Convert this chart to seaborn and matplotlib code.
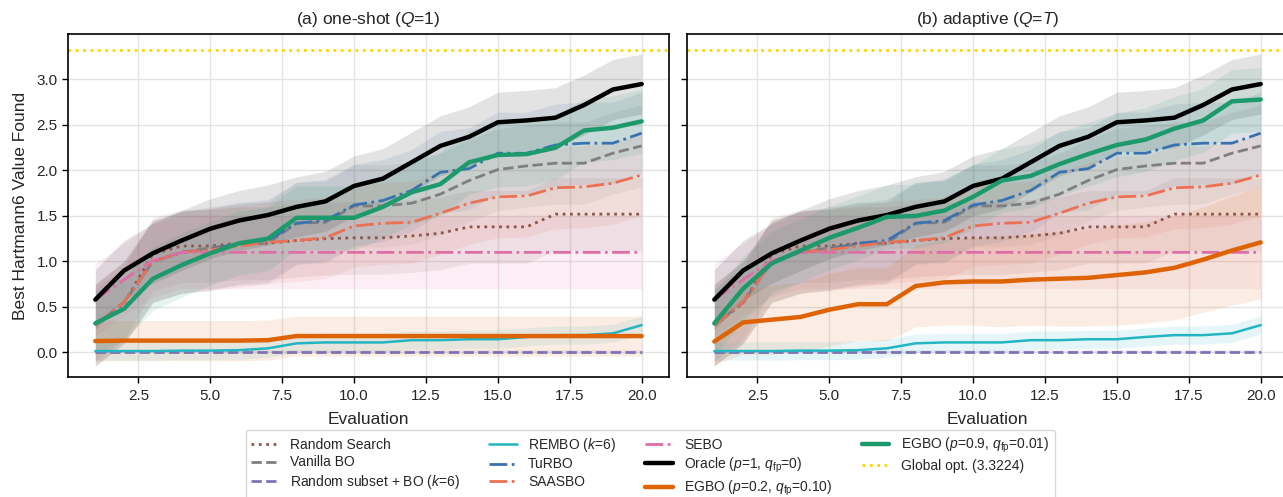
import numpy as np
import pandas as pd
import matplotlib
matplotlib.use("Agg")
import matplotlib.pyplot as plt
import seaborn as sns

# ---------------- data ----------------
evaluations = list(range(1, 21))

random_search = [0.30, 0.54, 1.08, 1.17, 1.17, 1.20, 1.20, 1.23, 1.25, 1.26,
                 1.26, 1.28, 1.31, 1.38, 1.38, 1.38, 1.52, 1.52, 1.52, 1.52]
vanilla_bo = [0.30, 0.55, 1.00, 1.10, 1.15, 1.19, 1.20, 1.42, 1.43, 1.61,
              1.61, 1.64, 1.74, 1.89, 2.01, 2.05, 2.08, 2.08, 2.19, 2.27]
random_subset = [0.01, 0.01, 0.01, 0.01, 0.01, 0.01, 0.01, 0.01, 0.01, 0.01,
                 0.01, 0.01, 0.01, 0.01, 0.01, 0.01, 0.01, 0.01, 0.01, 0.01]
rembo = [0.015, 0.015, 0.015, 0.02, 0.02, 0.025, 0.045, 0.10, 0.11, 0.11,
         0.11, 0.135, 0.135, 0.145, 0.145, 0.17, 0.19, 0.19, 0.21, 0.30]
turbo = [0.30, 0.55, 1.00, 1.10, 1.13, 1.20, 1.23, 1.42, 1.45, 1.62,
         1.67, 1.78, 1.98, 2.02, 2.19, 2.19, 2.28, 2.30, 2.30, 2.41]
saasbo = [0.30, 0.55, 1.00, 1.10, 1.13, 1.17, 1.21, 1.23, 1.26, 1.39,
          1.42, 1.43, 1.53, 1.64, 1.71, 1.72, 1.81, 1.82, 1.86, 1.95]
sebo = [0.58, 0.80, 1.01, 1.10, 1.10, 1.10, 1.10, 1.10, 1.10, 1.10,
        1.10, 1.10, 1.10, 1.10, 1.10, 1.10, 1.10, 1.10, 1.10, 1.10]
oracle = [0.58, 0.90, 1.09, 1.23, 1.36, 1.45, 1.51, 1.60, 1.66, 1.83,
          1.91, 2.09, 2.27, 2.37, 2.53, 2.55, 2.58, 2.72, 2.89, 2.95]
egbo02_oneshot = [0.125, 0.13, 0.13, 0.13, 0.13, 0.13, 0.135, 0.18, 0.18, 0.18,
                  0.18, 0.18, 0.18, 0.18, 0.18, 0.18, 0.18, 0.18, 0.18, 0.18]
egbo02_adaptive = [0.12, 0.33, 0.36, 0.39, 0.47, 0.53, 0.53, 0.73, 0.77, 0.78,
                   0.78, 0.80, 0.81, 0.82, 0.85, 0.88, 0.93, 1.02, 1.12, 1.21]
egbo09_oneshot = [0.32, 0.48, 0.81, 0.96, 1.09, 1.20, 1.25, 1.48, 1.48, 1.48,
                  1.60, 1.76, 1.85, 2.09, 2.17, 2.18, 2.25, 2.44, 2.47, 2.54]
egbo09_adaptive = [0.32, 0.70, 0.98, 1.12, 1.26, 1.37, 1.49, 1.50, 1.56, 1.71,
                   1.89, 1.94, 2.07, 2.18, 2.28, 2.34, 2.46, 2.55, 2.76, 2.78]
global_opt = 3.3224

# band half-widths (read roughly from the shaded regions)
band_random_search = 0.40
band_vanilla_bo = 0.45
band_random_subset = 0.02
band_rembo = 0.10
band_turbo = 0.45
band_saasbo = 0.45
band_sebo = 0.40
band_oracle = 0.33
band_egbo02_oneshot = 0.22
band_egbo02_adaptive = [0.25, 0.35, 0.38, 0.38, 0.40, 0.40, 0.40, 0.45, 0.47, 0.48,
                        0.50, 0.50, 0.52, 0.53, 0.55, 0.56, 0.57, 0.58, 0.60, 0.62]
band_egbo09 = 0.35

labels = ["Random Search", "Vanilla BO", "Random subset + BO ($k$=6)",
          "REMBO ($k$=6)", "TuRBO", "SAASBO", "SEBO",
          r"Oracle ($p$=1, $q_{\mathrm{fp}}$=0)",
          r"EGBO ($p$=0.2, $q_{\mathrm{fp}}$=0.10)",
          r"EGBO ($p$=0.9, $q_{\mathrm{fp}}$=0.01)"]
titles = ["(a) one-shot ($Q$=1)", "(b) adaptive ($Q$=$T$)"]
global_label = "Global opt. (3.3224)"

# ---------------- style ----------------
sns.set_theme(style="whitegrid")
plt.rcParams["font.family"] = ["Liberation Sans", "DejaVu Sans"]
plt.rcParams["mathtext.fontset"] = "custom"
plt.rcParams["mathtext.rm"] = "Liberation Sans"
plt.rcParams["mathtext.it"] = "Liberation Sans:italic"
plt.rcParams["mathtext.bf"] = "Liberation Sans:bold"

styles = [
    dict(color="#8c564b", ls=":", lw=2.0),
    dict(color="#7f7f7f", ls="--", lw=2.0),
    dict(color="#8172b3", ls="--", lw=2.0),
    dict(color="#23b5c2", ls="-", lw=1.8),
    dict(color="#3a72b0", ls="-.", lw=2.0),
    dict(color="#ec7053", ls="-.", lw=2.0),
    dict(color="#de6fa6", ls="-.", lw=2.0),
    dict(color="#000000", ls="-", lw=3.2),
    dict(color="#dd6305", ls="-", lw=3.2),
    dict(color="#1d9a6c", ls="-", lw=3.2),
]

W, H = 1283, 497
fig = plt.figure(figsize=(W / 100, H / 100), dpi=100)
ax1 = fig.add_axes([68 / W, (H - 377) / H, 601 / W, 343 / H])
ax2 = fig.add_axes([687 / W, (H - 377) / H, 601 / W, 343 / H], sharey=ax1)

panels = [
    (ax1, [random_search, vanilla_bo, random_subset, rembo, turbo, saasbo, sebo,
           oracle, egbo02_oneshot, egbo09_oneshot],
     [band_random_search, band_vanilla_bo, band_random_subset, band_rembo, band_turbo,
      band_saasbo, band_sebo, band_oracle, band_egbo02_oneshot, band_egbo09]),
    (ax2, [random_search, vanilla_bo, random_subset, rembo, turbo, saasbo, sebo,
           oracle, egbo02_adaptive, egbo09_adaptive],
     [band_random_search, band_vanilla_bo, band_random_subset, band_rembo, band_turbo,
      band_saasbo, band_sebo, band_oracle, band_egbo02_adaptive, band_egbo09]),
]

for ax, series, bands in panels:
    for vals, band, lab, st in zip(series, bands, labels, styles):
        df = pd.DataFrame({"Evaluation": evaluations, "value": vals})
        v = np.asarray(vals, dtype=float)
        b = np.asarray(band, dtype=float)
        ax.fill_between(evaluations, v - b, v + b, color=st["color"], alpha=0.11,
                        linewidth=0)
        sns.lineplot(data=df, x="Evaluation", y="value", ax=ax, color=st["color"],
                     linestyle=st["ls"], linewidth=st["lw"], label=lab)
    ax.axhline(global_opt, color="#FFD700", ls=":", lw=2.0, label=global_label)
    if ax.get_legend() is not None:
        ax.get_legend().remove()

for ax, t in zip([ax1, ax2], titles):
    ax.set_title(t, fontsize=12.5, pad=7)
    ax.set_xlabel("Evaluation", fontsize=12.5, labelpad=6)
    ax.set_xlim(0.05, 20.95)
    ax.set_ylim(-0.27, 3.50)
    ax.set_xticks([2.5, 5.0, 7.5, 10.0, 12.5, 15.0, 17.5, 20.0])
    ax.set_yticks([0.0, 0.5, 1.0, 1.5, 2.0, 2.5, 3.0])
    ax.tick_params(axis="both", which="both", labelsize=11, length=4, width=1,
                   color="black", bottom=True, left=True, pad=3.5)
    ax.tick_params(axis="x", pad=5)
    ax.grid(True, color="#e3e3e3", lw=1.0)
    ax.set_facecolor("white")
    for sp in ax.spines.values():
        sp.set_color("black")
        sp.set_linewidth(1.2)

ax1.set_ylabel("Best Hartmann6 Value Found", fontsize=12.5, labelpad=6)
ax1.yaxis.set_major_formatter(matplotlib.ticker.FormatStrFormatter("%.1f"))
ax1.xaxis.set_major_formatter(matplotlib.ticker.FormatStrFormatter("%.1f"))
ax2.xaxis.set_major_formatter(matplotlib.ticker.FormatStrFormatter("%.1f"))
ax2.set_ylabel("")
plt.setp(ax2.get_yticklabels(), visible=False)

handles, labs = ax1.get_legend_handles_labels()
leg = fig.legend(handles, labs, loc="upper left",
                 bbox_to_anchor=(245.5 / W, 1 - 430 / H), ncol=4, fontsize=10,
                 frameon=True, handlelength=2.0, columnspacing=2.1,
                 labelspacing=0.28, borderpad=0.4, borderaxespad=0.0)
leg.get_frame().set_edgecolor("#cccccc")

fig.savefig("out.png", dpi=100)
